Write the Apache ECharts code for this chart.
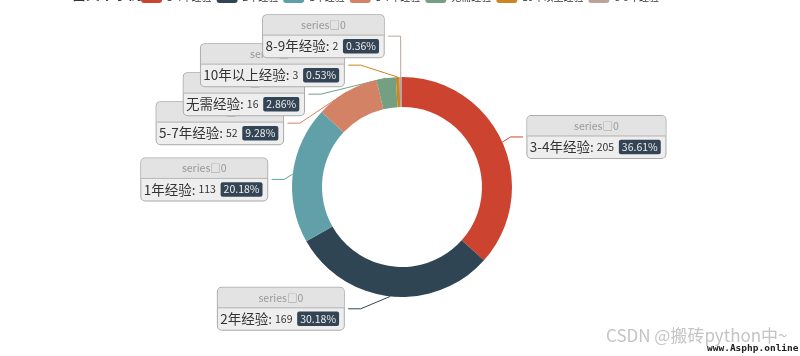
<!DOCTYPE html>
<html>
<head>
<meta charset="utf-8">
<script src="https://cdn.jsdelivr.net/npm/echarts@6/dist/echarts.min.js"></script>
<style>
html,body{margin:0;padding:0;background:#fff;}
#main{width:800px;height:356px;}
</style>
</head>
<body>
<div id="main"></div>
<script>
// ---- data ----
const categories = ['3-4年经验', '2年经验', '1年经验', '5-7年经验', '无需经验', '10年以上经验', '8-9年经验'];
const values = [205, 169, 113, 52, 16, 3, 2];
const colors = ['#cc4430', '#2f4554', '#61a0a8', '#d48265', '#749f83', '#ca8622', '#bda29a'];
const seriesName = 'series\u25a10';
const titleText = 'Pie-富文本示例';

// ---- geometry / style constants ----
const CX = 402, CY = 187, R0 = 80, R = 110;
const LEN = 12.5, LEN2 = 12.5, DIST = 4.4, SLOT = 29;
const VIEW_TOP = 0, VIEW_H = 356;

// Classic (v4 style) outer label placement, computed from the data angles
function computeLabelLayout() {
  const total = values.reduce((a, b) => a + b, 0);
  let acc = 0;
  const items = values.map((v, i) => {
    const start = acc / total * 2 * Math.PI;
    acc += v;
    const end = acc / total * 2 * Math.PI;
    const mid = (start + end) / 2;
    const dx = Math.sin(mid), dy = -Math.cos(mid);
    const x1 = CX + R * dx, y1 = CY + R * dy;
    const x2 = x1 + dx * LEN, y2 = y1 + dy * LEN;
    const s = dx < 0 ? -1 : 1;
    const x3 = x2 + s * LEN2;
    return { i, s, x: x3 + s * DIST, y: y2, height: SLOT, len: LEN, len2: LEN2,
             pts: [[x1, y1], [x2, y2], [x3, y2]] };
  });

  function adjustSide(list, dir) {
    list.sort((a, b) => a.y - b.y);
    function shiftDown(start, end, delta) {
      for (let j = start; j < end; j++) {
        if (list[j].y + delta > VIEW_TOP + VIEW_H) break;
        list[j].y += delta;
        if (j > start && j + 1 < end && list[j + 1].y > list[j].y + list[j].height) {
          shiftUp(j, delta / 2);
          return;
        }
      }
      shiftUp(end - 1, delta / 2);
    }
    function shiftUp(end, delta) {
      for (let j = end; j >= 0; j--) {
        if (list[j].y - delta < VIEW_TOP) break;
        list[j].y -= delta;
        if (j > 0 && list[j].y > list[j - 1].y + list[j - 1].height) break;
      }
    }
    function changeX(sub, isDown) {
      let last = isDown ? Number.MAX_VALUE : 0;
      for (const it of sub) {
        const deltaY = Math.abs(it.y - CY);
        const full = R + it.len + it.len2;
        let deltaX = deltaY < R + it.len ? Math.sqrt(full * full - deltaY * deltaY) : Math.abs(it.x - CX);
        if (isDown && deltaX >= last) deltaX = last - 10;
        if (!isDown && deltaX <= last) deltaX = last + 10;
        it.x = CX + deltaX * dir;
        last = deltaX;
      }
    }
    let lastY = 0;
    for (let i = 0; i < list.length; i++) {
      const delta = list[i].y - lastY;
      if (delta < 0) shiftDown(i, list.length, -delta);
      lastY = list[i].y + list[i].height;
    }
    if (VIEW_H - lastY < 0) shiftUp(list.length - 1, lastY - VIEW_H);
    const up = [], down = [];
    list.forEach(it => (it.y >= CY ? down : up).push(it));
    changeX(up, false);
    changeX(down, true);
  }

  adjustSide(items.filter(it => it.x >= CX), 1);
  adjustSide(items.filter(it => it.x < CX), -1);

  const out = {};
  items.forEach(it => {
    const p = it.pts;
    const dist = p[1][0] - p[2][0];
    const x3 = it.s < 0 ? it.x + DIST : it.x - DIST;
    out[it.i] = {
      x: it.x, y: it.y,
      align: it.s < 0 ? 'right' : 'left',
      pts: [[p[0][0], p[0][1]], [x3 + dist, it.y], [x3, it.y]]
    };
  });
  return out;
}
const labelPos = computeLabelLayout();

const chart = echarts.init(document.getElementById('main'), null, { renderer: 'canvas' });
chart.setOption({
  color: colors,
  animation: false,
  textStyle: { fontFamily: '"Noto Sans CJK SC", "Noto Sans", sans-serif' },
  title: {
    text: titleText,
    left: 40,
    top: -18,
    textStyle: { fontSize: 14, fontWeight: 'bold', color: '#333' }
  },
  legend: {
    top: -14,
    left: 'center',
    itemWidth: 21,
    itemHeight: 12,
    itemGap: 5,
    textStyle: { fontSize: 10, color: '#333' },
    data: categories
  },
  graphic: [
    { type: 'text', left: 606, top: 327, silent: true,
      style: { text: 'CSDN @搬砖python中~', fill: '#c4c4c4', font: '17px "Noto Sans CJK SC", sans-serif' } },
    { type: 'text', left: 707, top: 344, silent: true,
      style: { text: 'www.Asphp.online', fill: '#222', font: 'bold 9.5px "DejaVu Sans Mono", monospace' } }
  ],
  series: [{
    type: 'pie',
    name: seriesName,
    center: [CX, CY],
    radius: [R0, R],
    startAngle: 90,
    clockwise: true,
    avoidLabelOverlap: false,
    data: categories.map((n, i) => ({ name: n, value: values[i] })),
    label: {
      position: 'outside',
      formatter: '{a|{a}}{abg|}\n{hr|}\n {b|{b}: }{c}  {per|{d}%}  ',
      backgroundColor: '#eee',
      borderColor: '#aaa',
      borderWidth: 1,
      borderRadius: 4,
      fontSize: 10.5,
      rich: {
        a: { color: '#999', lineHeight: 20, align: 'center', fontSize: 10.5 },
        abg: { backgroundColor: '#e3e3e3', width: '100%', align: 'right', height: 20, borderRadius: [4, 4, 0, 0] },
        hr: { borderColor: '#aaa', width: '100%', borderWidth: 0.5, height: 0 },
        b: { fontSize: 13.5, lineHeight: 22 },
        per: { color: '#eee', backgroundColor: '#334455', padding: [2, 3], borderRadius: 2, fontSize: 10.5 }
      }
    },
    labelLine: { show: true, length: LEN, length2: LEN2, lineStyle: { width: 1 } },
    labelLayout: function (params) {
      const p = labelPos[params.dataIndex];
      return {
        x: p.x, y: p.y,
        align: p.align,
        verticalAlign: 'middle',
        labelLinePoints: p.pts
      };
    }
  }]
});
</script>
</body>
</html>
